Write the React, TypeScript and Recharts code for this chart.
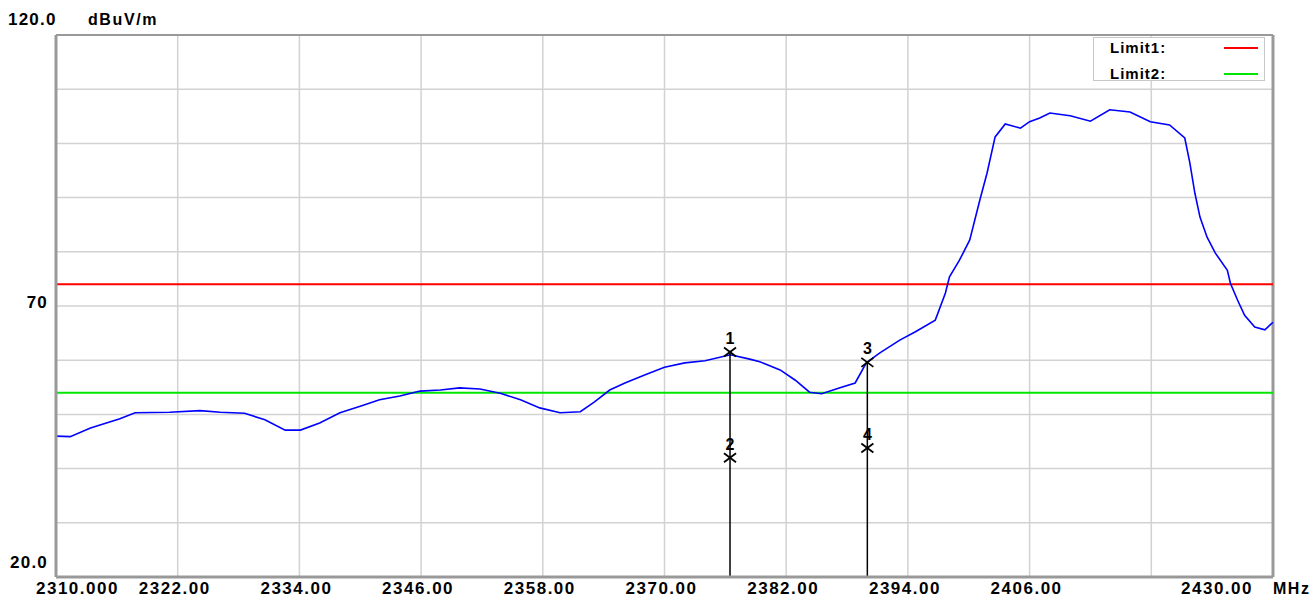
import {
  LineChart, Line, XAxis, YAxis, CartesianGrid, ReferenceLine, ReferenceDot,
} from "recharts";

const freqs = [
  2310.0, 2311.4, 2313.4, 2316.3, 2317.8, 2321.2, 2324.2, 2326.2, 2328.6, 2330.6,
  2332.6, 2334.1, 2336.0, 2338.0, 2340.0, 2341.9, 2343.9, 2345.9, 2347.9, 2349.8,
  2351.8, 2353.8, 2355.8, 2357.7, 2359.7, 2361.7, 2363.1, 2364.6, 2366.1, 2368.1,
  2370.0, 2372.0, 2374.0, 2376.5, 2378.4, 2379.4, 2381.4, 2382.9, 2384.3, 2385.5,
  2387.3, 2388.8, 2389.9, 2391.2, 2393.2, 2394.7, 2396.7, 2397.7, 2398.1, 2399.1,
  2400.1, 2401.1, 2401.8, 2402.6, 2403.6, 2405.1, 2406.0, 2407.0, 2408.0, 2410.0,
  2412.0, 2413.9, 2415.9, 2417.9, 2419.8, 2421.3, 2421.8, 2422.3, 2422.8, 2423.5,
  2424.3, 2425.5, 2425.8, 2426.5, 2427.2, 2428.2, 2429.2, 2430.0,
];

const levels = [
  46.0, 45.9, 47.5, 49.2, 50.3, 50.4, 50.7, 50.4, 50.2, 49.0,
  47.1, 47.1, 48.4, 50.3, 51.5, 52.7, 53.4, 54.3, 54.5, 54.9,
  54.7, 53.9, 52.7, 51.2, 50.3, 50.5, 52.3, 54.5, 55.8, 57.3,
  58.7, 59.5, 59.9, 61.0, 60.2, 59.7, 58.2, 56.3, 54.1, 53.8,
  54.9, 55.8, 59.5, 61.3, 63.7, 65.2, 67.4, 72.4, 75.4, 78.5,
  82.2, 89.6, 94.5, 101.2, 103.6, 102.8, 104.0, 104.7, 105.6, 105.1,
  104.1, 106.2, 105.8, 104.0, 103.4, 101.0, 96.4, 90.8, 86.4, 82.7,
  79.8, 76.6, 74.2, 71.1, 68.3, 66.1, 65.6, 67.0,
];

const xTicks = [2310, 2322, 2334, 2346, 2358, 2370, 2382, 2394, 2406, 2418, 2430];
const xLabels = ["2310.000", "2322.00", "2334.00", "2346.00", "2358.00", "2370.00", "2382.00", "2394.00", "2406.00", "", "2430.00"];
const yTicks = [20, 30, 40, 50, 60, 70, 80, 90, 100, 110, 120];
const yLabels: Record<number, string> = { 20: "20.0", 70: "70", 120: "120.0" };

const limits = [
  { name: "Limit1:", value: 74, color: "#ff0000" },
  { name: "Limit2:", value: 54, color: "#00e600" },
];

const markers = [
  { id: "1", freq: 2376.46, level: 61.5 },
  { id: "2", freq: 2376.46, level: 42.0 },
  { id: "3", freq: 2390.0, level: 59.6 },
  { id: "4", freq: 2390.0, level: 43.8 },
];

const data = freqs.map((f, i) => ({ freq: f, level: levels[i] }));

const font = "'Liberation Sans', Arial, sans-serif";

function XTick({ x, y, payload }: any) {
  const i = xTicks.indexOf(payload.value);
  const label = xLabels[i];
  if (!label) return null;
  let anchor = "middle";
  let dx = -3;
  if (i === 0) { anchor = "start"; dx = -20; }
  if (i === xTicks.length - 1) { anchor = "end"; dx = -20; }
  return (
    <g>
      <text x={x + dx} y={y + 17} textAnchor={anchor} fontFamily={font} fontWeight="bold"
        fontSize={17} letterSpacing={1.5} fill="#000">{label}</text>
      {i === xTicks.length - 1 && (
        <text x={x} y={y + 17} textAnchor="start" fontFamily={font} fontWeight="bold"
          fontSize={16} letterSpacing={1.5} fill="#000">MHz</text>
      )}
    </g>
  );
}

function YTick({ x, y, payload }: any) {
  const label = yLabels[payload.value];
  if (!label) return null;
  if (payload.value === 120) {
    return (
      <g fontFamily={font} fontWeight="bold" fontSize={17} letterSpacing={1.2} fill="#000">
        <text x={x - 48} y={y - 10}>{label}</text>
        <text x={x + 32} y={y - 10} fontSize={16} letterSpacing={1.6}>dBuV/m</text>
      </g>
    );
  }
  const dy = payload.value === 20 ? -9 : 2;
  return (
    <text x={x - 8} y={y + dy} textAnchor="end" fontFamily={font} fontWeight="bold"
      fontSize={17} letterSpacing={1.2} fill="#000">{label}</text>
  );
}

function MarkerShape({ cx, cy, id }: any) {
  return (
    <g>
      <line x1={cx - 6} y1={cy - 4.5} x2={cx + 6} y2={cy + 4.5} stroke="#000" strokeWidth={1.8} />
      <line x1={cx - 6} y1={cy + 4.5} x2={cx + 6} y2={cy - 4.5} stroke="#000" strokeWidth={1.8} />
      <text x={cx} y={cy - 8} textAnchor="middle" fontFamily={font} fontWeight="bold"
        fontSize={16} fill="#000">{id}</text>
    </g>
  );
}

export default function App() {
  return (
    <div style={{ position: "absolute", left: 0, top: 0, width: 1314, height: 599, background: "#fff" }}>
      <LineChart width={1314} height={599} data={data}
        margin={{ top: 35, right: 41, left: 0, bottom: 0 }}>
        <CartesianGrid stroke="#d2d2d2" strokeWidth={1.5} />
        <XAxis dataKey="freq" type="number" domain={[2310, 2430]} ticks={xTicks}
          height={22} tickSize={0} tickMargin={0} tickLine={false}
          axisLine={{ stroke: "#999", strokeWidth: 3 }} tick={<XTick />} interval={0} />
        <YAxis type="number" domain={[20, 120]} ticks={yTicks} width={56}
          tickSize={0} tickMargin={0} tickLine={false}
          axisLine={{ stroke: "#999", strokeWidth: 3 }} tick={<YTick />} interval={0} />
        <ReferenceLine y={120} stroke="#999" strokeWidth={2} />
        <ReferenceLine x={2430} stroke="#999" strokeWidth={3} />
        {limits.map((l) => (
          <ReferenceLine key={l.name} y={l.value} stroke={l.color} strokeWidth={2} />
        ))}
        <Line type="linear" dataKey="level" stroke="#0000ff" strokeWidth={1.6}
          dot={false} isAnimationActive={false} />
        {markers.filter((m) => m.id === "1" || m.id === "3").map((m) => (
          <ReferenceLine key={"seg" + m.id} segment={[{ x: m.freq, y: m.level }, { x: m.freq, y: 20 }]}
            stroke="#000" strokeWidth={1.5} />
        ))}
        {markers.map((m) => (
          <ReferenceDot key={m.id} x={m.freq} y={m.level} r={6}
            shape={(p: any) => <MarkerShape {...p} id={m.id} />} />
        ))}
      </LineChart>
      <div style={{
        position: "absolute", left: 1093, top: 37, width: 170, height: 42,
        border: "1px solid #c8c8c8", background: "#fff", fontFamily: font,
        fontWeight: "bold", fontSize: 15, letterSpacing: 1,
      }}>
        {limits.map((l, i) => (
          <div key={l.name} style={{ position: "absolute", left: 16, top: i === 0 ? 1 : 27, lineHeight: "18px" }}>
            {l.name}
            <div style={{ position: "absolute", left: 114, top: 8, width: 34, height: 2, background: l.color }} />
          </div>
        ))}
      </div>
    </div>
  );
}
